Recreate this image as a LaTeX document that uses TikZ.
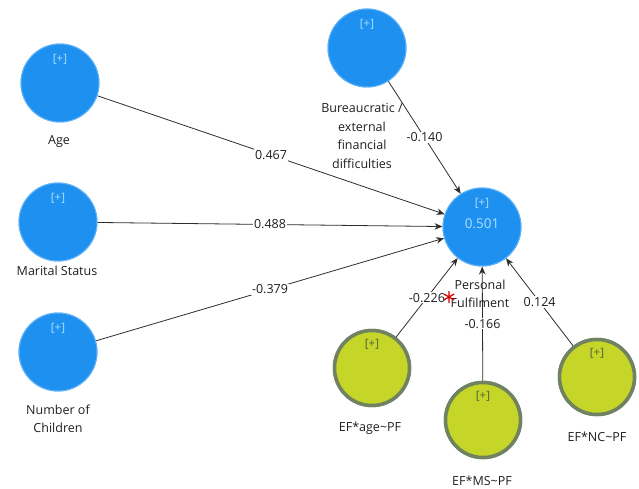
\documentclass[tikz,border=0pt]{standalone}
\usepackage{fontspec}
\setmainfont{Open Sans}
\usetikzlibrary{arrows.meta,calc}
\definecolor{lvblue}{RGB}{30,144,240}
\definecolor{lvedge}{RGB}{95,178,248}
\definecolor{lvplus}{RGB}{175,225,255}
\definecolor{mdfill}{RGB}{197,214,40}
\definecolor{mdedge}{RGB}{112,130,96}
\definecolor{mdplus}{RGB}{80,95,60}
\definecolor{pathcol}{RGB}{45,45,45}
\tikzset{
  latent/.style={circle, minimum size=78pt, inner sep=0pt, fill=lvblue, draw=lvedge, line width=1pt},
  moderator/.style={circle, minimum size=75pt, inner sep=0pt, fill=mdfill, draw=mdedge, line width=3.5pt},
  caption/.style={align=center, inner sep=0pt, font={\fontsize{12.5}{18.5}\selectfont}, text=black!88},
  plus/.style={inner sep=0pt, font={\fontsize{11.5}{13}\selectfont}},
  path/.style={draw=pathcol, line width=0.8pt, -{Stealth[length=8pt,width=6.5pt]}},
  coef/.style={fill=white, inner sep=1pt, font={\fontsize{12.5}{14}\selectfont}, text=black!88}
}
\begin{document}
\begin{tikzpicture}[x=1pt,y=-1pt]
\useasboundingbox (0,0) rectangle (639,489);

% constructs
\node[latent] (age) at (60,83) {};
\node[latent] (ms)  at (58,222) {};
\node[latent] (nc)  at (58,352) {};
\node[latent] (bur) at (367,48) {};
\node[latent] (pf)  at (482,227) {};
\node[moderator] (efa) at (372,368) {};
\node[moderator] (efm) at (483,420) {};
\node[moderator] (efn) at (597,377) {};

% structural paths with coefficients
\draw[path] (age) -- node[coef] (c1) {0.467} (pf);
\draw[path] (ms)  -- node[coef] (c2) {0.488} (pf);
\draw[path] (nc)  -- node[coef] (c3) {-0.379} (pf);
\draw[path] (bur) -- node[coef] (c4) {-0.140} (pf);
\draw[path] (efa) -- node[coef] (c5) {-0.226} (pf);
\draw[path] (efm) -- node[coef] (c6) {-0.166} (pf);
\draw[path] (efn) -- node[coef] (c7) {0.124} (pf);

% circles on top of the paths
\foreach \n in {age,ms,nc,bur,pf}{
  \node[latent] at (\n) {};
  \node[plus, text=lvplus] (\n-plus) at ($(\n)+(0,-24)$) {[+]};
}
\foreach \n in {efa,efm,efn}{
  \node[moderator] at (\n) {};
  \node[plus, text=mdplus] (\n-plus) at ($(\n)+(0,-24)$) {[+]};
}
\node[inner sep=0pt, text=lvplus, font={\fontsize{13.5}{15}\selectfont}] (r2) at (482,224) {0.501};

% construct names
\node[caption] (age-l) at (59,142) {Age};
\node[caption] (ms-l)  at (57,271) {Marital Status};
\node[caption] (nc-l)  at (58,419) {Number of\\Children};
\node[caption] (bur-l) at (362,136) {Bureaucratic /\\external\\financial\\difficulties};
\node[caption] (pf-l)  at (480,294) {Personal\\Fulfilment};
\node[caption] (efa-l) at (370,428) {EF*age\textasciitilde PF};
\node[caption] (efm-l) at (482,481) {EF*MS\textasciitilde PF};
\node[caption] (efn-l) at (597,437) {EF*NC\textasciitilde PF};

% red marker
\coordinate (mark) at (449,297);
\draw[red!85!black, line width=1.3pt]
  ($(mark)+(0,-6)$) -- ($(mark)+(0,6)$)
  ($(mark)+(-5.2,-3)$) -- ($(mark)+(5.2,3)$)
  ($(mark)+(-5.2,3)$) -- ($(mark)+(5.2,-3)$);
\end{tikzpicture}
\end{document}
